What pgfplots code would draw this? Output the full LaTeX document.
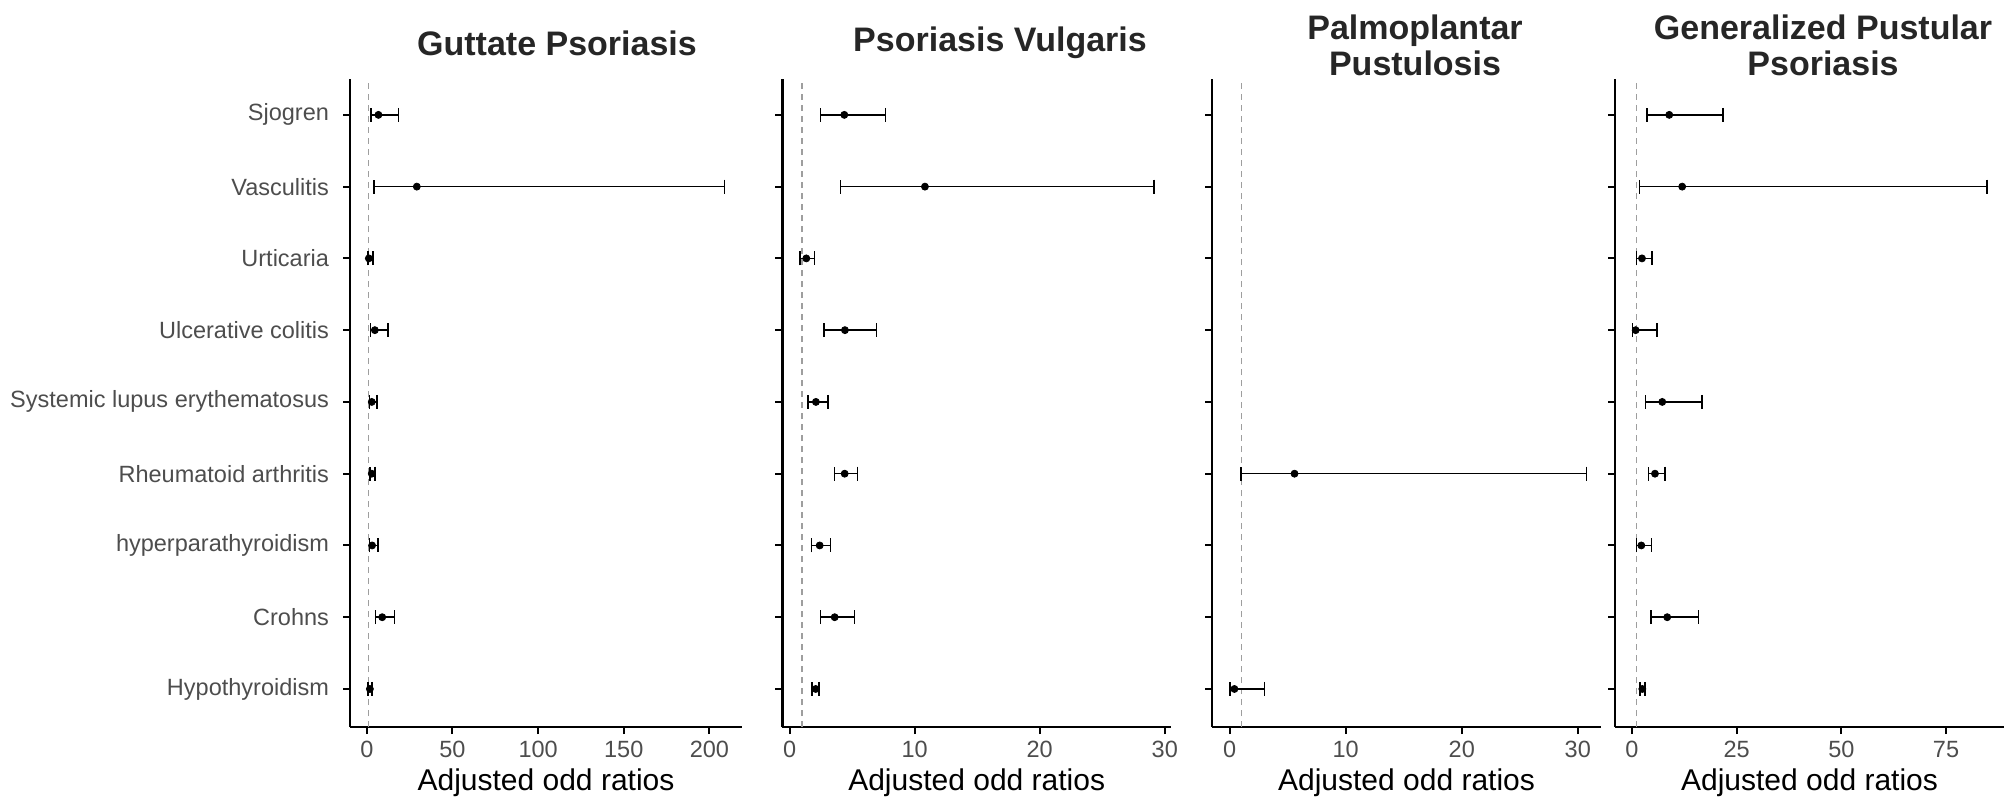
\documentclass[border=0pt]{standalone}
\usepackage{fontspec}
\setmainfont{Liberation Sans}
\usepackage{pgfplots}
\pgfplotsset{compat=1.18}
\usepackage{pgfplotstable}

\definecolor{txtgray}{HTML}{4D4D4D}
\definecolor{ttl}{HTML}{262626}
\definecolor{refgray}{HTML}{9E9E9E}

% y: 9 Sjogren ... 1 Hypothyroidism
\pgfplotstableread{
y or lo hi
9 6.8 2.3 18.5
8 29.2 4.1 208.8
7 1.2 0.7 3.5
6 4.7 2.1 12.3
5 2.9 1.6 6.0
4 2.9 1.8 4.7
3 3.1 1.6 6.4
2 9.0 5.1 16.2
1 1.8 0.8 3.1
}\gut
\pgfplotstableread{
y or lo hi
9 4.37 2.48 7.67
8 10.82 4.05 29.12
7 1.33 0.83 2.00
6 4.42 2.77 6.95
5 2.10 1.47 3.06
4 4.40 3.60 5.41
3 2.40 1.76 3.28
2 3.60 2.48 5.20
1 2.08 1.81 2.37
}\vul
\pgfplotstableread{
y or lo hi
4 5.59 0.96 30.75
1 0.41 0.03 2.99
}\ppp
\pgfplotstableread{
y or lo hi
9 8.89 3.57 21.80
8 11.98 1.75 84.80
7 2.38 1.11 4.76
6 0.87 0.16 5.95
5 7.22 3.25 16.67
4 5.48 3.89 7.86
3 2.22 1.11 4.68
2 8.41 4.52 15.87
1 2.46 1.90 3.17
}\gpp

\pgfplotsset{
  forest/.style={
    scale only axis, height=324pt, anchor=south west,
    ymin=0.47, ymax=9.5,
    axis x line*=bottom, axis y line*=left,
    axis line style={line width=1.2pt, black, -},
    tick style={line width=1pt, black},
    major tick length=3.5pt, tick align=outside,
    ytick={1,...,9}, yticklabels={},
    xticklabel style={font=\fontsize{11.75}{14}\selectfont, text=txtgray},
    yticklabel style={font=\fontsize{11.75}{14}\selectfont, text=txtgray, xshift=-3.5pt},
    /pgf/number format/assume math mode=true,
    clip=false,
  },
  refline/.style={refgray, line width=0.7pt, dash pattern=on 3pt off 2.5pt, forget plot},
  orplot/.style={only marks, mark=*, mark size=1.75pt, black,
    error bars/.cd, x dir=both, x explicit,
    error bar style={line width=0.8pt, black},
    error mark=|,
    error mark options={mark size=3.5pt, line width=0.8pt, black}},
}

\newcommand{\orplot}[1]{%
  \addplot[refline] coordinates {(1,0.47) (1,9.5)};
  \addplot[orplot] table[x=or, y=y,
     x error plus expr=\thisrow{hi}-\thisrow{or},
     x error minus expr=\thisrow{or}-\thisrow{lo}] {#1};
}

\begin{document}
\begin{tikzpicture}
\path[use as bounding box] (0,0) rectangle (1008pt,399.5pt);

\begin{axis}[forest, at={(175pt,36pt)}, width=196pt,
  xmin=-9.8, xmax=219, xtick={0,50,100,150,200},
  yticklabels={Hypothyroidism, Crohns, hyperparathyroidism, Rheumatoid arthritis, Systemic lupus erythematosus, Ulcerative colitis, Urticaria, Vasculitis, Sjogren}]
\orplot{\gut}
\end{axis}

\begin{axis}[forest, at={(391.2pt,36pt)}, width=194.3pt,
  xmin=-0.58, xmax=30.5, xtick={0,10,20,30}]
\orplot{\vul}
\end{axis}

\begin{axis}[forest, at={(606pt,36pt)}, width=194.5pt,
  xmin=-1.52, xmax=32.0, xtick={0,10,20,30}]
\orplot{\ppp}
\end{axis}

\begin{axis}[forest, at={(807.5pt,36pt)}, width=194.5pt,
  xmin=-4.06, xmax=88.85, xtick={0,25,50,75}]
\orplot{\gpp}
\end{axis}

\tikzset{ttlstyle/.style={font=\fontsize{17}{18}\selectfont\bfseries, text=ttl, align=center},
         xlab/.style={font=\fontsize{15}{18}\selectfont, text=black, anchor=base}}
\node[ttlstyle] at (278.5pt,378pt) {Guttate Psoriasis};
\node[ttlstyle] at (500pt,378pt) {Psoriasis Vulgaris};
\node[ttlstyle] at (707.5pt,377pt) {Palmoplantar\\Pustulosis};
\node[ttlstyle] at (911.5pt,377pt) {Generalized Pustular\\Psoriasis};

\node[xlab] at (273pt,4.5pt) {Adjusted odd ratios};
\node[xlab] at (488.35pt,4.5pt) {Adjusted odd ratios};
\node[xlab] at (703.25pt,4.5pt) {Adjusted odd ratios};
\node[xlab] at (904.75pt,4.5pt) {Adjusted odd ratios};
\end{tikzpicture}
\end{document}
